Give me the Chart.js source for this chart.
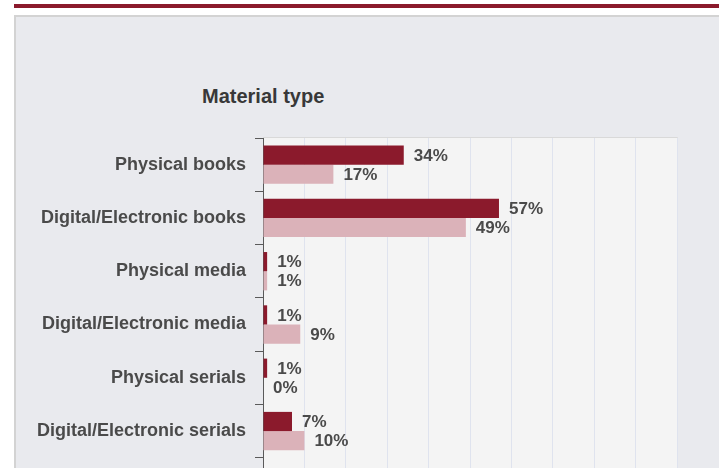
<!DOCTYPE html>
<html>
<head>
<meta charset="utf-8">
<script src="https://cdn.jsdelivr.net/npm/chart.js@4/dist/chart.umd.min.js"></script>
<style>
  html, body { margin: 0; padding: 0; width: 719px; height: 468px; overflow: hidden; background: #ffffff; }
  #barra { position: absolute; left: 14px; top: 4px; right: 0; height: 4px; background: #8b1a2c; }
  #panel { position: absolute; left: 14px; top: 15px; right: 0; height: 560px; background: #e9eaee;
           border-left: 2px solid #d3d3d3; border-top: 2px solid #d3d3d3; }
  #titulo { position: absolute; left: 202px; top: 85px; font: bold 20px "Liberation Sans", Arial, sans-serif; color: #383838; }
  #grafico { position: absolute; left: 0; top: 0; }
</style>
</head>
<body>
<div id="barra"></div>
<div id="panel"></div>
<div id="titulo">Material type</div>
<canvas id="grafico" width="719" height="540"></canvas>
<script>
// Datos del grafico
const categorias = [
    'Physical books',
    'Digital/Electronic books',
    'Physical media',
    'Digital/Electronic media',
    'Physical serials',
    'Digital/Electronic serials',
    'Other'
];
const serieA = [34, 57, 1, 1, 1, 7, 0];
const serieB = [17, 49, 1, 9, 0, 10, 0];
const marcasX = [0, 10, 20, 30, 40, 50, 60, 70, 80, 90, 100];

// Fondo del area del grafico
const fondoArea = {
    id: 'fondoArea',
    beforeDraw(chart) {
        const { ctx, chartArea: a } = chart;
        ctx.save();
        ctx.fillStyle = '#f4f4f4';
        ctx.fillRect(a.left, a.top, a.right - a.left, a.bottom - a.top);
        ctx.strokeStyle = '#d9d9d9';
        ctx.lineWidth = 1;
        ctx.beginPath();
        ctx.moveTo(a.left, a.top - 0.5);
        ctx.lineTo(a.right + 0.5, a.top - 0.5);
        ctx.lineTo(a.right + 0.5, a.bottom);
        ctx.stroke();
        ctx.restore();
    }
};

// Etiquetas con el porcentaje al final de cada barra
const etiquetas = {
    id: 'etiquetas',
    afterDatasetsDraw(chart) {
        const ctx = chart.ctx;
        ctx.save();
        ctx.font = 'bold 17px "Liberation Sans", Arial, sans-serif';
        ctx.fillStyle = '#4a4a4a';
        ctx.textAlign = 'left';
        ctx.textBaseline = 'middle';
        chart.data.datasets.forEach((ds, i) => {
            chart.getDatasetMeta(i).data.forEach((bar, j) => {
                ctx.fillText(ds.data[j] + '%', bar.x + 10, bar.y + 1);
            });
        });
        ctx.restore();
    }
};

new Chart(document.getElementById('grafico').getContext('2d'), {
    type: 'bar',
    data: {
        labels: categorias,
        datasets: [
            { data: serieA, backgroundColor: '#8b1a2c', barPercentage: 1, categoryPercentage: 0.72 },
            { data: serieB, backgroundColor: '#dbb2b9', barPercentage: 1, categoryPercentage: 0.72 }
        ]
    },
    options: {
        indexAxis: 'y',
        responsive: false,
        animation: false,
        layout: { padding: { left: 0, right: 42, top: 138, bottom: 29 } },
        plugins: { legend: { display: false }, tooltip: { enabled: false } },
        scales: {
            x: {
                min: 0,
                max: 100,
                afterBuildTicks(scale) { scale.ticks = marcasX.map(v => ({ value: v })); },
                ticks: { display: false },
                grid: { color: '#dfe3ee', drawTicks: false },
                border: { display: false }
            },
            y: {
                afterFit(scale) { scale.width = 263; },
                ticks: {
                    padding: 9,
                    color: '#4a4a4a',
                    font: { family: '"Liberation Sans", Arial, sans-serif', size: 18, weight: 'bold' }
                },
                grid: { drawOnChartArea: false, tickLength: 8, color: '#5a5a5a', offset: true },
                border: { display: true, color: '#5a5a5a', width: 1 }
            }
        }
    },
    plugins: [fondoArea, etiquetas]
});
</script>
</body>
</html>
